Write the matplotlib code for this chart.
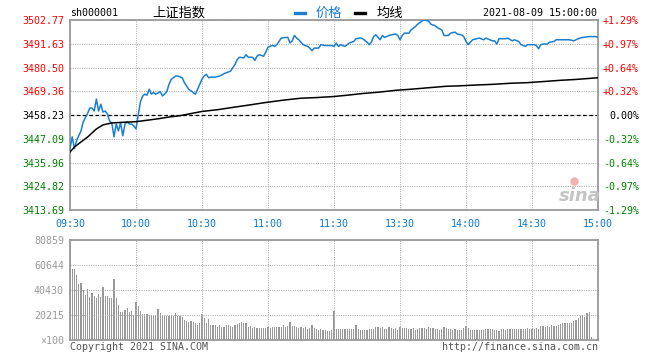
import matplotlib
matplotlib.use("Agg")
import matplotlib.pyplot as plt
from matplotlib.lines import Line2D
import numpy as np

# --- data (SSE composite, 2021-08-09, 1-minute) ---
prev_close = 3458.23
y_low, y_high = 3413.69, 3502.77

price_ticks = [3413.69, 3424.82, 3435.96, 3447.09, 3458.23, 3469.36, 3480.50, 3491.63, 3502.77]
price_labels = ["3413.69", "3424.82", "3435.96", "3447.09", "3458.23", "3469.36", "3480.50", "3491.63", "3502.77"]
pct_labels = ["-1.29%", "-0.97%", "-0.64%", "-0.32%", "0.00%", "+0.32%", "+0.64%", "+0.97%", "+1.29%"]

time_ticks = [0, 30, 60, 90, 120, 150, 180, 210, 240]
time_labels = ["09:30", "10:00", "10:30", "11:00", "11:30", "13:30", "14:00", "14:30", "15:00"]

price_minute = [
    0, 1, 2, 3, 5, 6, 8, 9, 10, 11,
    12, 13, 14, 15, 16, 17, 18, 19, 20, 21,
    22, 23, 24, 25, 26, 27, 28, 29, 30, 31,
    32, 33, 34, 35, 36, 37, 38, 39, 41, 42,
    43, 44, 45, 46, 48, 49, 51, 52, 53, 54,
    56, 57, 58, 59, 60, 61, 62, 63, 64, 66,
    68, 70, 71, 73, 74, 75, 76, 77, 79, 80,
    81, 83, 84, 85, 86, 88, 89, 90, 92, 93,
    94, 95, 96, 98, 99, 100, 101, 102, 103, 104,
    106, 108, 109, 110, 111, 113, 114, 116, 119, 120,
    121, 122, 123, 124, 125, 126, 127, 129, 130, 132,
    133, 135, 136, 137, 138, 139, 141, 142, 143, 145,
    146, 148, 149, 150, 151, 152, 154, 155, 157, 158,
    160, 161, 163, 164, 166, 167, 169, 170, 172, 173,
    175, 176, 178, 179, 180, 181, 183, 185, 186, 188,
    189, 192, 193, 194, 195, 198, 199, 201, 202, 204,
    205, 207, 208, 211, 212, 213, 214, 215, 217, 218,
    220, 221, 224, 227, 229, 231, 233, 236, 239, 240,
]
price_value = [
    3442.5, 3448.0, 3442.5, 3446.2, 3450.8, 3455.0, 3459.0, 3461.5, 3461.5, 3460.1,
    3465.7, 3460.1, 3463.3, 3459.6, 3460.1, 3458.7, 3455.4, 3454.5, 3448.0, 3454.0,
    3450.8, 3454.5, 3448.5, 3454.0, 3455.0, 3454.0, 3454.0, 3453.1, 3451.7, 3458.2,
    3464.3, 3467.0, 3468.0, 3467.5, 3470.3, 3468.0, 3468.8, 3468.0, 3469.2, 3467.2,
    3468.0, 3469.2, 3472.6, 3474.9, 3476.5, 3476.5, 3475.7, 3473.4, 3471.8, 3470.3,
    3468.8, 3468.0, 3470.3, 3472.6, 3475.0, 3476.5, 3477.3, 3475.7, 3476.0, 3476.0,
    3476.5, 3477.6, 3478.0, 3478.8, 3480.4, 3481.9, 3484.2, 3485.3, 3485.0, 3486.5,
    3485.3, 3485.3, 3483.8, 3485.8, 3486.5, 3485.8, 3487.8, 3490.0, 3490.9, 3490.4,
    3491.2, 3492.7, 3494.3, 3494.6, 3494.6, 3492.0, 3493.0, 3495.5, 3494.3, 3493.5,
    3491.2, 3490.4, 3489.6, 3488.4, 3489.6, 3489.6, 3491.2, 3490.8, 3490.8, 3490.4,
    3492.0, 3490.4, 3491.2, 3490.8, 3490.4, 3491.2, 3492.0, 3492.7, 3494.0, 3494.3,
    3494.0, 3492.4, 3491.2, 3492.4, 3495.0, 3495.8, 3493.5, 3495.5, 3494.6, 3495.5,
    3495.8, 3496.2, 3495.5, 3493.5, 3495.5, 3496.6, 3496.6, 3498.1, 3499.7, 3500.8,
    3502.3, 3502.77, 3502.3, 3500.8, 3500.1, 3499.2, 3498.1, 3495.5, 3495.5, 3496.6,
    3497.1, 3496.2, 3495.8, 3495.0, 3492.7, 3491.2, 3493.5, 3494.0, 3494.3, 3493.5,
    3494.3, 3493.0, 3493.0, 3491.5, 3494.0, 3494.0, 3494.3, 3493.0, 3493.5, 3492.7,
    3491.2, 3490.4, 3491.2, 3491.2, 3490.8, 3489.3, 3491.2, 3491.5, 3491.5, 3492.4,
    3492.7, 3493.5, 3493.5, 3493.5, 3493.0, 3494.0, 3494.6, 3495.0, 3495.0, 3494.63,
]

avg_minute = [0, 2, 5, 8, 12, 15, 19, 24, 30, 36, 41, 45, 50, 55, 60, 67, 74, 82, 89, 97,
              105, 112, 120, 126, 133, 141, 148, 156, 164, 171, 177, 185, 192, 200, 208,
              215, 223, 230, 240]
avg_value = [3440.9, 3443.2, 3445.6, 3447.9, 3451.7, 3453.6, 3454.5, 3454.8, 3455.1, 3455.9,
             3456.6, 3457.3, 3457.9, 3458.9, 3459.9, 3460.7, 3461.8, 3463.0, 3464.1, 3465.2,
             3466.1, 3466.4, 3466.9, 3467.5, 3468.3, 3469.0, 3469.8, 3470.4, 3471.1, 3471.7,
             3471.9, 3472.3, 3472.6, 3473.1, 3473.4, 3473.9, 3474.5, 3474.9, 3475.7]

# volume per minute, in lots of 100 shares
volume = [
    80859, 57400, 57400, 52550, 45280, 46350, 40430, 36380, 40960, 35030,
    37730, 35570, 33690, 37190, 34500, 43120, 35570, 35570, 33690, 33690,
    49320, 34230, 28300, 22900, 22900, 24260, 26140, 22900, 23720, 20210,
    31000, 27500, 23720, 21020, 21020, 21020, 20210, 20210, 19400, 20210,
    25060, 21560, 20210, 19400, 19400, 19670, 20210, 19400, 21560, 19400,
    19400, 18330, 16170, 15630, 14820, 15360, 14280, 14010, 12130, 13480,
    21020, 17520, 14010, 16710, 12130, 12130, 12130, 10780, 12130, 10780,
    10780, 12130, 12130, 11320, 10780, 12130, 12670, 14010, 14820, 13480,
    14010, 10780, 11590, 9970, 10240, 9970, 9970, 9970, 9970, 9970,
    10780, 9970, 10780, 10240, 10780, 10240, 10780, 12130, 10240, 11320,
    14550, 11320, 11320, 10240, 9430, 10240, 9430, 10240, 8620, 9970,
    12130, 9970, 8620, 8090, 8620, 8090, 8090, 7550, 7550, 8090,
    23720, 8890, 8890, 8890, 8890, 8620, 8890, 8890, 8620, 8890,
    12130, 8890, 8090, 8090, 8090, 8090, 8620, 8890, 8890, 10240,
    10240, 9970, 10240, 8890, 8620, 10240, 9430, 8890, 9700, 8090,
    10510, 9970, 9430, 9430, 8890, 8890, 9430, 8090, 8890, 9970,
    9430, 9970, 8890, 10780, 9430, 9970, 8620, 8890, 8090, 8890,
    10780, 9430, 8890, 8620, 8090, 8620, 8090, 8090, 8090, 9430,
    11050, 9430, 8090, 8090, 8090, 8090, 8090, 8090, 8090, 8620,
    8890, 8890, 8620, 8090, 8090, 7550, 8620, 8890, 8090, 8620,
    8890, 8890, 8620, 8890, 8890, 8620, 8890, 8890, 9430, 8890,
    8890, 8890, 9970, 8890, 11320, 11320, 10240, 11320, 10780, 12130,
    11590, 11590, 12130, 12670, 13480, 13480, 14010, 14010, 14010, 15630,
    16170, 17520, 19400, 20210, 18860, 21560, 22640, 2160, 0, 0,
    0,
]
vol_ticks = [0, 20215, 40430, 60644, 80859]
vol_labels = ["\u00d7100", "20215", "40430", "60644", "80859"]

# --- styling ---
mono = "DejaVu Sans Mono"
cjk = ["Noto Sans CJK SC", "DejaVu Sans"]
blue = "#1a7fd0"
red = "#ff0000"
green = "#008000"
frame = "#9a9a9a"
grid_kw = dict(color="#b0b0b0", linestyle=(0, (1, 1.2)), linewidth=0.75)

W, H = 660, 360
fig = plt.figure(figsize=(W / 100, H / 100), dpi=100)

ax = fig.add_axes([70 / W, 1 - 210 / H, 528 / W, 190 / H])
axv = fig.add_axes([70 / W, 1 - 340 / H, 528 / W, 100 / H])

# price panel
ax.plot(price_minute, price_value, color=blue, lw=1.1, zorder=3)
ax.plot(avg_minute, avg_value, color="black", lw=1.1, zorder=3)
ax.axhline(prev_close, color="black", lw=0.9, linestyle=(0, (3, 2)), zorder=2.5)
ax.set_xlim(0, 240)
ax.set_ylim(y_low, y_high)
ax.set_xticks(time_ticks)
ax.set_xticklabels(time_labels, family=mono, fontsize=7.2, color="#0a78d2")
ax.set_yticks(price_ticks)
ax.set_yticklabels(price_labels, family=mono, fontsize=7.2)
ax.grid(True, **grid_kw)
ax.tick_params(length=0)
ax.tick_params(axis="x", pad=6.5)
ax.tick_params(axis="y", pad=4.3)


def level_color(v):
    if abs(v - prev_close) < 0.01:
        return "black"
    return red if v > prev_close else green


for lab, v in zip(ax.get_yticklabels(), price_ticks):
    lab.set_color(level_color(v))

ax_r = ax.twinx()
ax_r.set_ylim(y_low, y_high)
ax_r.set_yticks(price_ticks)
ax_r.set_yticklabels(pct_labels, family=mono, fontsize=7.2)
ax_r.tick_params(length=0, pad=29.5)
for lab, v in zip(ax_r.get_yticklabels(), price_ticks):
    lab.set_color(level_color(v))
    lab.set_ha("right")
for s in ax_r.spines.values():
    s.set_visible(False)

for a in (ax, axv):
    for s in a.spines.values():
        s.set_color(frame)
        s.set_linewidth(1.3)

# volume panel
axv.bar(np.arange(len(volume)), volume, width=0.5, color="#999999", linewidth=0, antialiased=False)
axv.set_xlim(0, 240)
axv.set_ylim(0, vol_ticks[-1])
axv.set_xticks(time_ticks)
axv.set_xticklabels([])
axv.set_yticks(vol_ticks)
axv.set_yticklabels(vol_labels, family=mono, fontsize=7.2, color="#9a9a9a")
axv.grid(True, **grid_kw)
axv.tick_params(length=0)
axv.tick_params(axis="y", pad=4.3)

# header
ty = 1 - 13 / H
fig.text(70 / W, ty, "sh000001", family=mono, fontsize=7.2, va="center")
fig.text(152 / W, ty, "上证指数", family=cjk, fontsize=9.5, va="center")
fig.add_artist(Line2D([295 / W, 305 / W], [ty, ty], color=blue, lw=2.4, transform=fig.transFigure))
fig.text(316 / W, ty, "价格", family=cjk, fontsize=9.5, va="center", color=blue)
fig.add_artist(Line2D([355 / W, 365 / W], [ty, ty], color="black", lw=2.4, transform=fig.transFigure))
fig.text(377 / W, ty, "均线", family=cjk, fontsize=9.5, va="center")
fig.text(597 / W, ty, "2021-08-09 15:00:00", family=mono, fontsize=7.2, va="center", ha="right")

# watermark + footer
fig.text(580 / W, 1 - 196 / H, "sina", fontsize=13, style="italic", weight="bold",
         color="#c4c4c4", ha="center", va="center")
fig.add_artist(Line2D([574 / W], [1 - 181 / H], marker="o", markersize=5, color="#f2b0b0",
                      transform=fig.transFigure))
fy = 1 - 347 / H
fig.text(70 / W, fy, "Copyright 2021 SINA.COM", family=mono, fontsize=7.2, va="center", color="#555555")
fig.text(598 / W, fy, "http://finance.sina.com.cn", family=mono, fontsize=7.2, va="center",
         ha="right", color="#555555")

fig.savefig("out.png", dpi=100)
